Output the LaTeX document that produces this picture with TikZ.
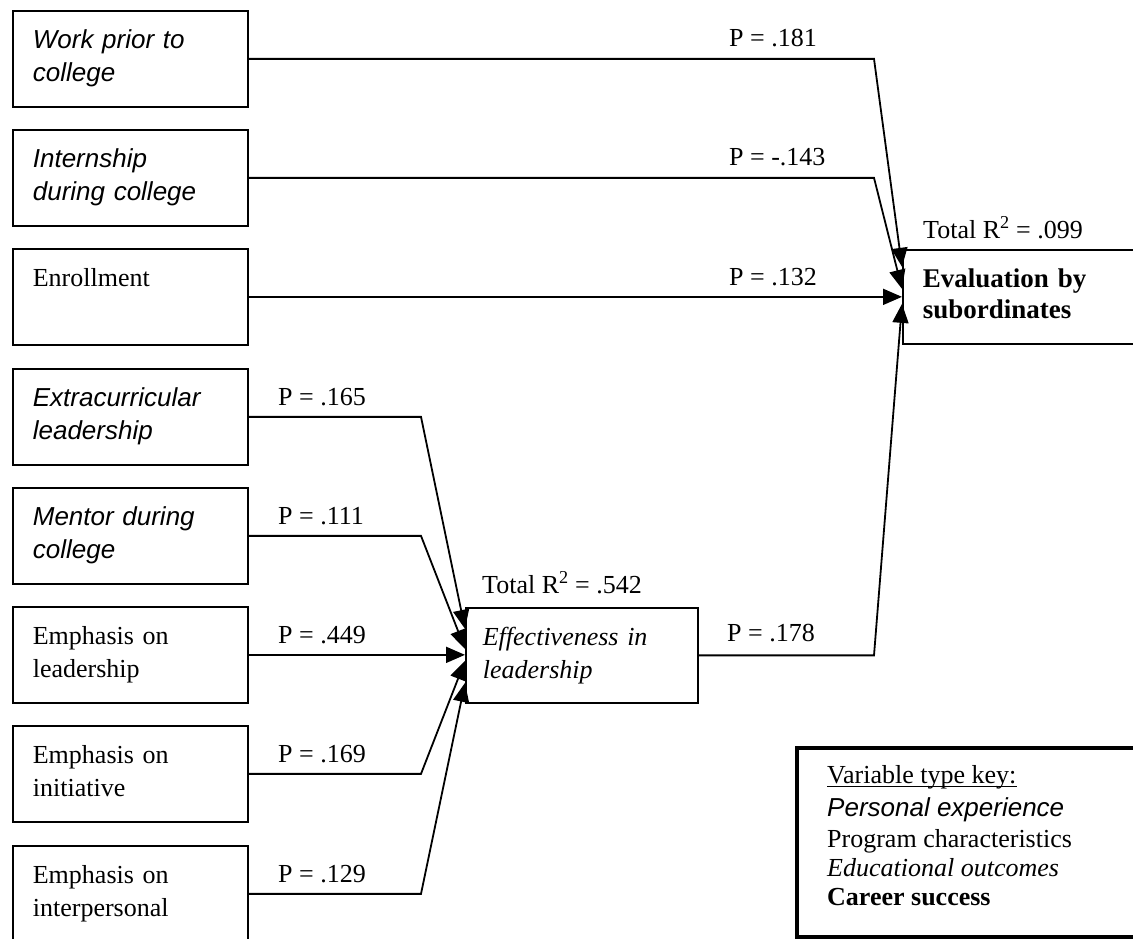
\documentclass[tikz,border=0pt]{standalone}
\usepackage{fontspec}
\setmainfont{Liberation Serif}
\setsansfont{Liberation Sans}
\usetikzlibrary{arrows.meta}
\newcommand\bodysize{\fontsize{26}{33}\selectfont}
\newcommand\labelsize{\fontsize{26}{31}\selectfont}
\newcommand\outsize{\fontsize{27}{31}\selectfont}
\begin{document}
\begin{tikzpicture}[x=1pt,y=-1pt,
  varbox/.style={draw, line width=1.7pt, anchor=north west, align=left,
    inner ysep=0pt, font=\bodysize,
    execute at begin node=\strut, execute at end node=\strut},
  inbox/.style={varbox, minimum width=235pt, minimum height=96pt,
    inner xsep=20pt, text width=195pt},
  personal/.style={inbox, font=\bodysize\sffamily\itshape},
  program/.style={inbox},
  plabel/.style={anchor=base west, inner sep=0pt, font=\labelsize},
  link/.style={line width=1.8pt, -{Triangle[length=19pt,width=16pt]}},
]
\useasboundingbox (0,0) rectangle (1133,938);
\clip (0,0) rectangle (1133,938);

% predictor boxes
\node[personal] (b1) at (12,10)  {Work prior to\\college};
\node[personal] (b2) at (12,129) {Internship\\during college};
\node[program]  (b3) at (12,248) {Enrollment\\\mbox{}};
\node[personal] (b4) at (12,368) {Extracurricular\\leadership};
\node[personal] (b5) at (12,487) {Mentor during\\college};
\node[program]  (b6) at (12,606) {Emphasis on\\leadership};
\node[program]  (b7) at (12,725) {Emphasis on\\initiative};
\node[program]  (b8) at (12,845) {Emphasis on\\interpersonal};

% outcome boxes
\node[varbox, minimum width=232pt, minimum height=95pt, inner xsep=17pt,
      text width=198pt, font=\bodysize\itshape] (ef) at (465,607)
      {Effectiveness in\\leadership};
\node[varbox, minimum width=260pt, minimum height=94pt, inner xsep=20pt,
      text width=220pt, font=\outsize\bfseries] (ev) at (902,249)
      {Evaluation by\\subordinates};

% bend columns of the connectors
\coordinate (xL) at (421,0);
\coordinate (xR) at (874,0);

% paths into the evaluation box
\draw[link] (b1.east) -- (b1.east -| xR) -- ([yshift=30pt]ev.west);
\draw[link] (b2.east) -- (b2.east -| xR) -- ([yshift=8pt]ev.west);
\draw[link] (b3.east) -- (ev.west);
\draw[link] (ef.east) -- (ef.east -| xR) -- ([yshift=-7pt]ev.west);

% paths into the effectiveness box
\draw[link] (b4.east) -- (b4.east -| xL) -- ([yshift=26.5pt]ef.west);
\draw[link] (b5.east) -- (b5.east -| xL) -- ([yshift=6.5pt]ef.west);
\draw[link] (b6.east) -- (b6.east -| ef.west);
\draw[link] (b7.east) -- (b7.east -| xL) -- ([yshift=-5.5pt]ef.west);
\draw[link] (b8.east) -- (b8.east -| xL) -- ([yshift=-27.5pt]ef.west);

% path coefficients
\node[plabel] (p1) at (729,46)  {P = .181};
\node[plabel] (p2) at (729,165) {P = -.143};
\node[plabel] (p3) at (729,285) {P = .132};
\node[plabel] (p4) at (727,641) {P = .178};
\node[plabel] (q1) at (278,405) {P = .165};
\node[plabel] (q2) at (278,524) {P = .111};
\node[plabel] (q3) at (278,643) {P = .449};
\node[plabel] (q4) at (278,762) {P = .169};
\node[plabel] (q5) at (278,882) {P = .129};

% explained variance
\node[plabel] (r1) at (482,593) {Total R\textsuperscript{2} = .542};
\node[plabel] (r2) at (923,238) {Total R\textsuperscript{2} = .099};

% variable type key
\node[draw, line width=4pt, anchor=north west, minimum width=360pt,
      minimum height=189pt] (key) at (795,746) {};
\node[plabel] (k1) at (827,783) {Variable type key:};
\node[plabel, font=\labelsize\sffamily\itshape] (k2) at (827,816) {Personal experience};
\node[plabel] (k3) at (827,847) {Program characteristics};
\node[plabel, font=\labelsize\itshape] (k4) at (827,876) {Educational outcomes};
\node[plabel, font=\labelsize\bfseries] (k5) at (827,905) {Career success};
\draw[line width=1.2pt] ([yshift=-3.5pt]k1.base west) -- ([yshift=-3.5pt]k1.base east);
\end{tikzpicture}
\end{document}
